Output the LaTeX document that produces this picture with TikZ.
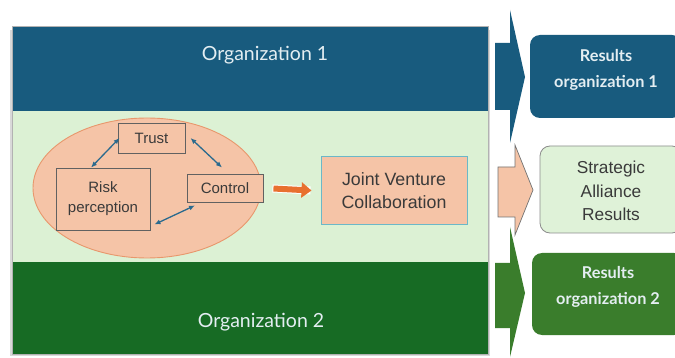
\documentclass[tikz,border=0pt]{standalone}
\usepackage{fontspec}
\setmainfont{Liberation Sans}
\newfontfamily\latofont{Lato}
\usetikzlibrary{shapes.geometric,arrows.meta}
\definecolor{orgblue}{HTML}{185B7E}
\definecolor{orggreen}{HTML}{176B24}
\definecolor{bandgreen}{HTML}{DCF1D4}
\definecolor{resgreen}{HTML}{3A7D2C}
\definecolor{peach}{HTML}{F5C4A7}
\definecolor{ellborder}{HTML}{E8976C}
\definecolor{linkblue}{HTML}{2A6A8E}
\definecolor{orangearr}{HTML}{E8702F}
\definecolor{jvborder}{HTML}{6BB8C8}
\definecolor{restext}{HTML}{E4EEF2}
\definecolor{darktext}{HTML}{3A3A3A}
\begin{document}
\begin{tikzpicture}[x=1pt,y=-1pt,
  orglabel/.style={text=restext,font=\latofont\fontsize{19.5}{22}\selectfont},
  factorbox/.style={draw=darktext!80,line width=0.9pt,fill=peach,text=darktext,
     font=\fontsize{15}{20}\selectfont,align=center,inner sep=0pt},
  link/.style={draw=linkblue,line width=1.3pt,{Latex[length=6pt,width=5pt]}-{Latex[length=6pt,width=5pt]}},
  restitle/.style={font=\latofont\bfseries\fontsize{16.3}{26}\selectfont,text=restext,align=center}
]
\clip (0,0) rectangle (675,358);
\useasboundingbox (0,0) rectangle (675,358);
\fill[white] (0,0) rectangle (675,358);
% shadow
\fill[black!15] (10,30) rectangle (490,356);
% bands
\fill[orgblue] (12,26) rectangle (488,111);
\fill[bandgreen] (12,111) rectangle (488,262);
\fill[orggreen] (12,262) rectangle (488,354);
\draw[black!30,line width=0.6pt] (12,26) rectangle (488,354);
\node[orglabel] (org1) at (265,55) {Organization 1};
\node[orglabel] (org2) at (261,322) {Organization 2};
% ellipse
\node[ellipse,draw=ellborder,line width=0.9pt,fill=peach,minimum width=228pt,minimum height=140pt,inner sep=0pt] (ell) at (147,188) {};
\node[factorbox,minimum width=67pt,minimum height=30pt] (trust) at (151.5,138) {Trust};
\node[factorbox,minimum width=94pt,minimum height=62pt] (risk) at (103,199) {Risk\\perception};
\node[factorbox,minimum width=76pt,minimum height=28pt] (control) at (225,188) {Control};
\node[draw=jvborder,line width=1pt,fill=peach,text=darktext,minimum width=146pt,minimum height=68pt,
  font=\fontsize{17.8}{23}\selectfont,align=center] (jv) at (394,191) {Joint Venture\\Collaboration};
\draw[link] ([xshift=2pt]trust.west) -- ([xshift=-12pt]risk.north);
\draw[link] ([xshift=5pt]trust.east) -- ([xshift=-3pt,yshift=6pt]control.north);
\draw[link] ([xshift=-30pt,yshift=-3pt]control.south) -- ([xshift=4pt,yshift=6pt]risk.south east);
\draw[white,line width=8pt,shorten <=9pt,shorten >=10pt] (control.east) -- (jv.west);
\draw[orangearr,line width=6pt,shorten <=10pt,shorten >=9pt,-{Triangle[length=10pt,width=15pt]}] (control.east) -- (jv.west);
% block arrows
\fill[orgblue] (495,43) -- (510,43) -- (510,10) -- (525,77) -- (510,143) -- (510,110) -- (495,110) -- cycle;
\filldraw[fill=peach,draw=black!55,line width=0.7pt] (498,167) -- (515,167) -- (515,145) -- (533,190) -- (515,235) -- (515,217) -- (498,217) -- cycle;
\fill[resgreen] (495,263) -- (510,263) -- (510,227) -- (525,293) -- (510,357) -- (510,328) -- (495,328) -- cycle;
% result boxes
\fill[orgblue,rounded corners=10pt] (530,35) rectangle (682,118);
\filldraw[fill=bandgreen!90!white,draw=black!45,line width=0.8pt,rounded corners=10pt] (540,146) rectangle (682,233);
\fill[resgreen,rounded corners=10pt] (532,253) rectangle (684,335);
\node[restitle] (res1) at (606,70) {Results\\organization 1};
\node[font=\fontsize{17.3}{23.5}\selectfont,text=darktext,align=center] (res2) at (611,191) {Strategic\\Alliance\\Results};
\node[restitle] (res3) at (608,287) {Results\\organization 2};
\end{tikzpicture}
\end{document}
